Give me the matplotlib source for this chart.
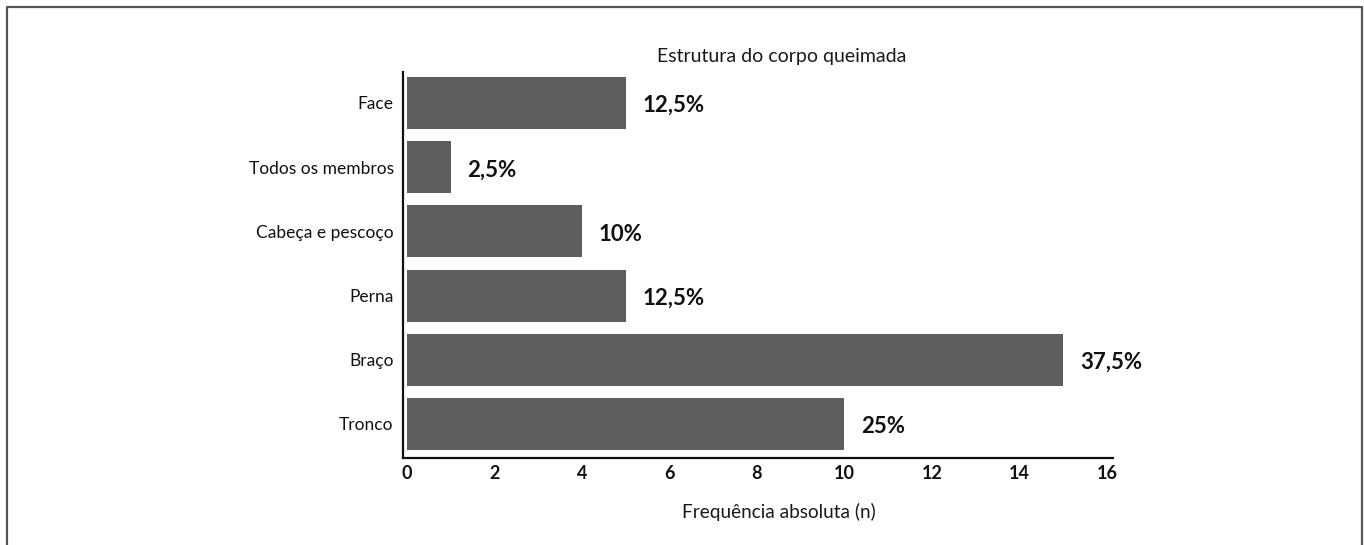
import matplotlib.pyplot as plt
from matplotlib.lines import Line2D

plt.rcParams['font.family'] = ['Lato', 'DejaVu Sans']

# data, bottom to top
categorias = ['Tronco', 'Braço', 'Perna', 'Cabeça e pescoço', 'Todos os membros', 'Face']
frequencia = [10, 15, 5, 4, 1, 5]
percentuais = ['25%', '37,5%', '12,5%', '10%', '2,5%', '12,5%']
xticks = [0, 2, 4, 6, 8, 10, 12, 14, 16]

bar_color = '#5e5e5e'

fig = plt.figure(figsize=(13.64, 5.45), dpi=100)
ax = fig.add_axes([0.2958, 0.1596, 0.5205, 0.7083])

pos = list(range(len(categorias)))
ax.barh(pos, frequencia, height=0.81, color=bar_color)

for p, v, lab in zip(pos, frequencia, percentuais):
    ax.annotate(lab, (v, p), xytext=(12, -2), textcoords='offset points',
                ha='left', va='center', fontsize=16, fontweight='bold', color='#111111')

ax.set_yticks(pos)
ax.set_yticklabels(categorias, fontsize=12.5)
ax.set_xticks(xticks)
ax.set_xticklabels([str(t) for t in xticks], fontsize=13, fontweight='bold')
ax.tick_params(axis='both', length=0, colors='#111111')
ax.tick_params(axis='y', pad=7)
ax.tick_params(axis='x', pad=5)

ax.set_xlim(-0.08, 16.15)
ax.set_ylim(-0.53, 5.48)

for s in ['top', 'right']:
    ax.spines[s].set_visible(False)
for s in ['left', 'bottom']:
    ax.spines[s].set_linewidth(1.6)
    ax.spines[s].set_color('#111111')

ax.set_xlabel('Frequência absoluta (n)', fontsize=13.7, color='#1a1a1a')
ax.xaxis.set_label_coords(0.529, -0.14)
ax.xaxis.label.set_va('center')

fig.text(782 / 1364, 0.897, 'Estrutura do corpo queimada', ha='center', va='center',
         fontsize=14, color='#1a1a1a')

# outer frame (no bottom edge)
W, H = 1364, 545
fx = [7 / W, 7 / W, 1362 / W, 1362 / W]
fy = [0, 1 - 7 / H, 1 - 7 / H, 0]
fig.add_artist(Line2D(fx, fy, transform=fig.transFigure, color='#555555', lw=1.6))

fig.savefig('out.png', dpi=100)
